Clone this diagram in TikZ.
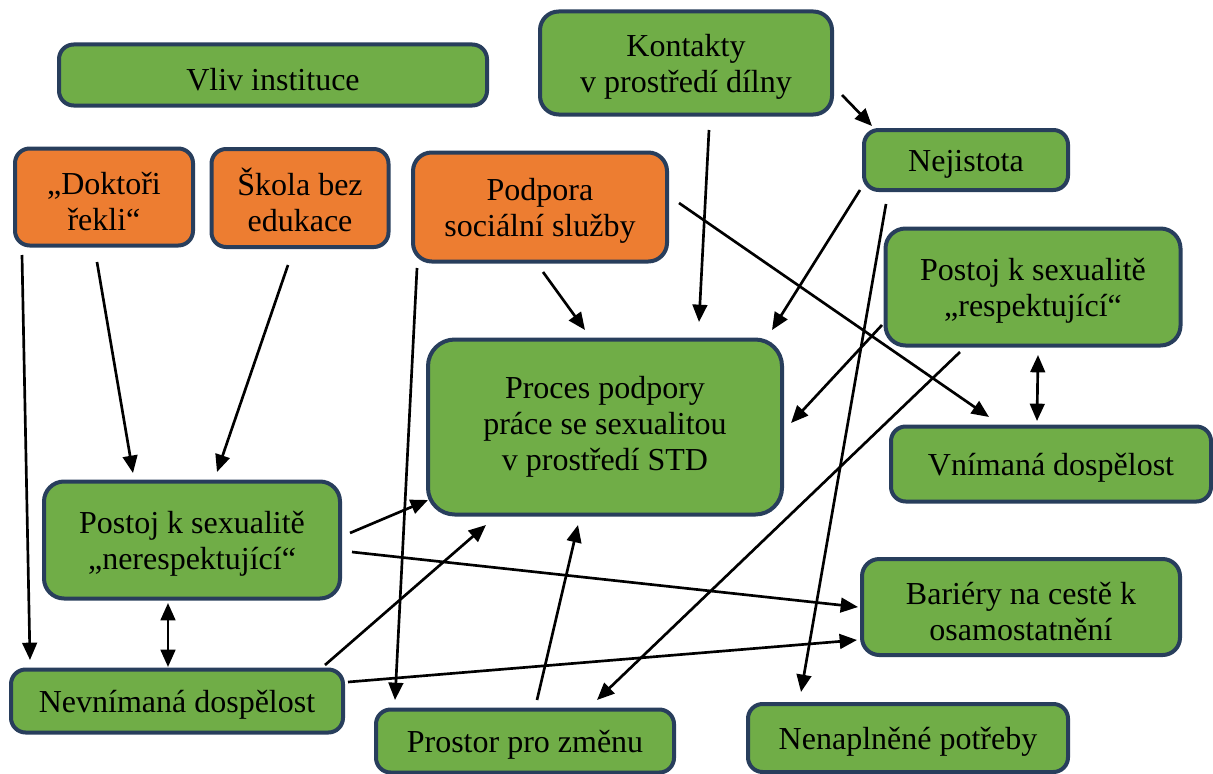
\documentclass[tikz,border=0pt]{standalone}
\usepackage{fontspec}
\setmainfont{Liberation Serif}
\usetikzlibrary{arrows.meta,calc}
\definecolor{gr}{HTML}{70AD47}
\definecolor{orng}{HTML}{ED7D31}
\definecolor{bd}{RGB}{40,62,92}
\newcommand\mystrut{\rule{0pt}{23pt}}
\tikzset{
  box/.style={draw=bd, line width=3pt, rounded corners=11pt, fill=gr, align=center,
    inner sep=0pt, font=\fontsize{24}{27}\selectfont},
  obox/.style={box, fill=orng},
  sz/.style 2 args={minimum width=#1pt, minimum height=#2pt},
  arr/.style={line width=2pt, -{Triangle[length=13pt,width=11pt]}},
  darr/.style={line width=2pt, {Triangle[length=13pt,width=11pt]}-{Triangle[length=13pt,width=11pt]}}
}
\begin{document}
\begin{tikzpicture}[x=0.75pt,y=-0.75pt]
\useasboundingbox[fill=white] (0,0) rectangle (1213,774);
% nodes
\node[box, sz={321}{45.75}] (vliv) at (273,75) {\mystrut Vliv instituce};
\node[box, sz={219}{77.25}, rounded corners=14pt] (kont) at (686,63) {\mystrut Kontakty\\v prostředí dílny};
\node[box, sz={153}{45}] (nej) at (966,160) {\mystrut Nejistota};
\node[obox, sz={133.5}{72.75}] (dok) at (104,197) {\mystrut „Doktoři\\řekli“};
\node[obox, sz={132.75}{73.5}] (skola) at (300,198) {\mystrut Škola bez\\edukace};
\node[obox, sz={190.5}{81.75}, rounded corners=14pt] (podp) at (540,207) {\mystrut Podpora\\sociální služby};
\node[box, sz={221.25}{87.75}, rounded corners=15pt] (resp) at (1033,287) {\mystrut Postoj k sexualitě\\„respektující“};
\node[box, sz={265.5}{131.25}, rounded corners=20pt] (proc) at (605,427) {Proces podpory\\práce se sexualitou\\v prostředí STD};
\node[box, sz={240}{56.25}] (vnim) at (1051,464) {\mystrut Vnímaná dospělost};
\node[box, sz={222}{87.75}, rounded corners=15pt] (neresp) at (192,540) {\mystrut Postoj k sexualitě\\„nerespektující“};
\node[box, sz={238.5}{72}, rounded corners=13pt] (bar) at (1021,607) {\mystrut Bariéry na cestě k\\osamostatnění};
\node[box, sz={249}{47.25}] (nevnim) at (177,701) {\mystrut Nevnímaná dospělost};
\node[box, sz={223.5}{47.25}] (prostor) at (525,741) {\mystrut Prostor pro změnu};
\node[box, sz={240}{51}] (nenapl) at (908,738) {\mystrut Nenaplněné potřeby};
% connectors
\draw[arr] ($(kont)+(156,32)$) -- ($(nej)+(-94,-34)$);
\draw[arr] ($(kont)+(23,67)$) -- ($(proc)+(94,-105)$);
\draw[arr] ($(nej)+(-106,30)$) -- ($(proc)+(167,-97)$);
\draw[arr] ($(nej)+(-80,44)$) -- ($(nenapl)+(-107,-46)$);
\draw[arr] ($(podp)+(3,65)$) -- ($(proc)+(-20,-97)$);
\draw[arr] ($(podp)+(139,-4)$) -- ($(vnim)+(-62,-47)$);
\draw[arr] ($(podp)+(-123,61)$) -- ($(prostor)+(-130,-41)$);
\draw[arr] ($(dok)+(-82,58)$) -- ($(nevnim)+(-147,-41)$);
\draw[arr] ($(dok)+(-7,65)$) -- ($(neresp)+(-59,-67)$);
\draw[arr] ($(skola)+(-12,67)$) -- ($(neresp)+(25,-68)$);
\draw[arr] ($(resp)+(-151,38)$) -- ($(proc)+(186,-4)$);
\draw[arr] ($(resp)+(-73,65)$) -- ($(prostor)+(72,-41)$);
\draw[darr] ($(resp)+(5,68)$) -- ($(vnim)+(-14,-43)$);
\draw[arr] ($(neresp)+(158,-7)$) -- ($(proc)+(-177,73)$);
\draw[arr] ($(neresp)+(160,12)$) -- ($(bar)+(-163,0)$);
\draw[darr] ($(neresp)+(-24,63)$) -- ($(nevnim)+(-9,-34)$);
\draw[arr] ($(nevnim)+(148,-36)$) -- ($(proc)+(-119,98)$);
\draw[arr] ($(nevnim)+(171,-19)$) -- ($(bar)+(-164,33)$);
\draw[arr] ($(prostor)+(12,-41)$) -- ($(proc)+(-27,98)$);
\end{tikzpicture}
\end{document}
